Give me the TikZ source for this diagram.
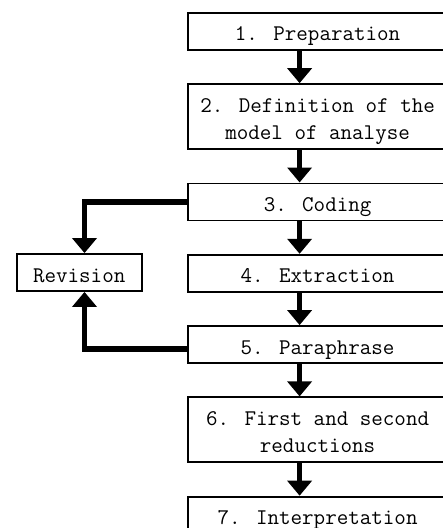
\documentclass[tikz,border=0pt]{standalone}
\usetikzlibrary{arrows.meta}
\newcommand\twolinetext[2]{\vtop{\baselineskip=27pt\halign{\hfil##\hfil\cr #1\cr #2\cr}}}
\begin{document}
\begin{tikzpicture}[x=1pt,y=-1pt,
  stepbox/.style={draw, line width=1.8pt, rectangle, inner sep=2pt,
    minimum width=260pt, minimum height=37pt,
    font=\fontsize{22.4}{27}\selectfont\ttfamily,
    text height=19pt, text depth=0pt},
  twobox/.style={stepbox, minimum height=65pt, text height=10pt, text depth=18.6pt},
  revbox/.style={stepbox, minimum width=125pt},
  arr/.style={line width=5.5pt, -{Triangle[width=24pt,length=15pt]}}]
\useasboundingbox (0,0) rectangle (443,528);
\node[stepbox] (b1) at (317.6,31.3) {1. Preparation};
\node[twobox]  (b2) at (317.6,116.6) {\twolinetext{2. Definition of the}{model of analyse}};
\node[stepbox] (b3) at (317.6,201.9) {3. Coding};
\node[stepbox] (b4) at (317.6,273.2) {4. Extraction};
\node[stepbox] (b5) at (317.6,344.5) {5. Paraphrase};
\node[twobox]  (b6) at (317.6,429.8) {\twolinetext{6. First and second}{reductions}};
\node[stepbox] (b7) at (317.6,515.1) {7. Interpretation};
\node[revbox]  (rev) at (79.2,272.5) {Revision};
\draw[arr] ([xshift=-18pt]b1.south) -- ([xshift=-18pt]b2.north);
\draw[arr] ([xshift=-18pt]b2.south) -- ([xshift=-18pt]b3.north);
\draw[arr] ([xshift=-18pt]b3.south) -- ([xshift=-18pt]b4.north);
\draw[arr] ([xshift=-18pt]b4.south) -- ([xshift=-18pt]b5.north);
\draw[arr] ([xshift=-18pt]b5.south) -- ([xshift=-18pt]b6.north);
\draw[arr] ([xshift=-18pt]b6.south) -- ([xshift=-18pt]b7.north);
\draw[arr] (b3.west) -| ([xshift=5.3pt]rev.north);
\draw[arr] ([yshift=-4.5pt]b5.west) -| ([xshift=5.3pt]rev.south);
\end{tikzpicture}
\end{document}
